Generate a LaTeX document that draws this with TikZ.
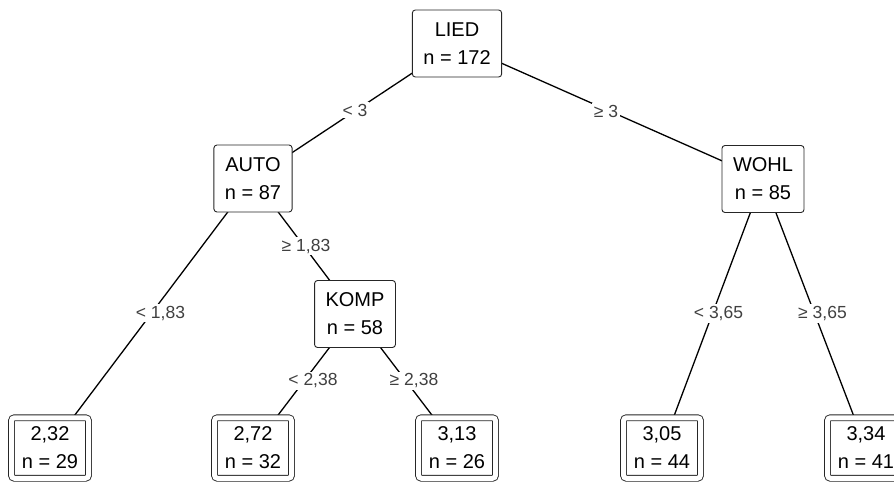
\documentclass[tikz,border=0pt]{standalone}
\usepackage{fontspec}
\setmainfont{Liberation Sans}
\usetikzlibrary{backgrounds}

\tikzset{
  split/.style={draw=black!85, line width=0.9pt, rounded corners=3pt, fill=white,
    align=center, font=\fontsize{20}{28}\selectfont,
    minimum height=67, inner xsep=11pt},
  leaf/.style={draw=black!85, line width=0.9pt, double=white, double distance=5pt,
    rounded corners=3pt, fill=white, align=center,
    font=\fontsize{20}{28}\selectfont,
    minimum width=77, minimum height=60.5, inner xsep=4pt},
  edge/.style={draw=black, line width=1.3pt},
  cond/.style={fill=white, text=black!75, font=\fontsize{17.5}{20}\selectfont,
    inner sep=2pt}
}

\begin{document}
\begin{tikzpicture}[x=1pt, y=-1pt]
  \useasboundingbox (0,0) rectangle (894,482);

  % inner splits
  \node[split] (lied) at (457,43.5) {LIED\\n = 172};
  \node[split] (auto) at (253,178.5) {AUTO\\n = 87};
  \node[split] (wohl) at (763,179) {WOHL\\n = 85};
  \node[split] (komp) at (355,314) {KOMP\\n = 58};

  % terminal nodes
  \node[leaf] (l1) at (50,448) {2,32\\n = 29};
  \node[leaf] (l2) at (253,448) {2,72\\n = 32};
  \node[leaf] (l3) at (457,448) {3,13\\n = 26};
  \node[leaf] (l4) at (662,448) {3,05\\n = 44};
  \node[leaf] (l5) at (866,448) {3,34\\n = 41};

  % connectors with split conditions
  \begin{scope}[on background layer]
    \path[edge] (lied.center) -- node[cond, midway, yshift=1]{< 3} (auto.center);
    \path[edge] (lied.center) -- node[cond, midway, xshift=-4]{≥ 3} (wohl.center);
    \path[edge] (auto.center) -- node[cond, midway, xshift=9]{< 1,83} (l1.center);
    \path[edge] (auto.center) -- node[cond, midway, xshift=2]{≥ 1,83} (komp.center);
    \path[edge] (komp.center) -- node[cond, midway, xshift=9]{< 2,38} (l2.center);
    \path[edge] (komp.center) -- node[cond, midway, xshift=8]{≥ 2,38} (l3.center);
    \path[edge] (wohl.center) -- node[cond, midway, xshift=6]{< 3,65} (l4.center);
    \path[edge] (wohl.center) -- node[cond, midway, xshift=8]{≥ 3,65} (l5.center);
  \end{scope}
\end{tikzpicture}
\end{document}
